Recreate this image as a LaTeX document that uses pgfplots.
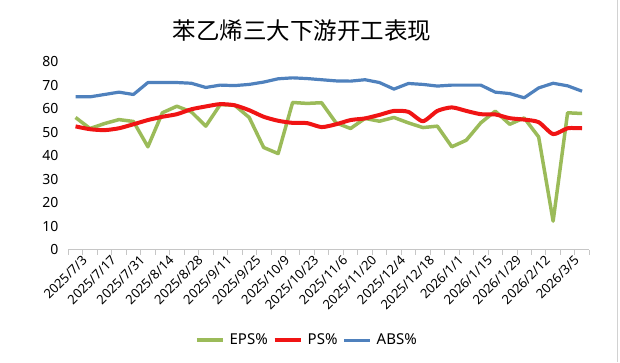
\documentclass[border=0pt]{standalone}
\usepackage{fontspec}
\setmainfont{Noto Sans}
\newfontfamily\cjk{Noto Sans CJK SC}
\usepackage{pgfplots}
\usepackage{pgfplotstable}
\pgfplotsset{compat=1.18}
\definecolor{epsgreen}{RGB}{155,187,89}
\definecolor{psred}{RGB}{240,20,20}
\definecolor{absblue}{RGB}{79,129,189}
\pgfplotstableread{
i eps ps abs
0 56.3 52.5 65.1
1 51.6 51.3 65.1
2 53.7 50.9 66.1
3 55.4 51.7 67.1
4 54.6 53.4 66.1
5 43.8 55.2 71.2
6 58.3 56.6 71.2
7 61.1 57.7 71.2
8 58.7 59.8 70.9
9 52.6 61.0 69.1
10 61.8 62.0 70.1
11 61.5 61.5 69.9
12 56.3 59.4 70.4
13 43.5 56.6 71.4
14 40.9 54.9 72.8
15 62.7 54.0 73.2
16 62.3 53.9 72.9
17 62.6 52.2 72.4
18 54.0 53.4 71.9
19 51.6 55.2 71.8
20 55.9 55.9 72.4
21 54.7 57.4 71.2
22 56.3 59.1 68.4
23 54.0 58.7 70.8
24 52.0 54.7 70.4
25 52.6 59.1 69.7
26 43.8 60.6 70.1
27 46.6 59.1 70.1
28 54.0 57.7 70.1
29 59.0 57.6 67.1
30 53.4 56.0 66.5
31 56.1 55.4 64.7
32 48.0 54.3 68.9
33 12.1 49.2 70.9
34 58.3 51.7 69.8
35 58.0 51.7 67.5
}\datatable
\begin{document}
\begin{tikzpicture}[x=1pt,y=1pt]
\path (0,0) rectangle (620,362);
\draw[gray!35] (617,0) -- (617,362);
\begin{axis}[
  at={(68.3pt,112.7pt)}, anchor=south west,
  scale only axis, width=521pt, height=187.6pt,
  xmin=-0.5, xmax=35.5, ymin=0, ymax=80,
  axis lines*=left,
  y axis line style={draw=none},
  x axis line style={draw=gray!45, line width=0.8pt},
  ytick={0,10,...,80},
  ytick style={draw=none},
  yticklabel style={font=\fontsize{14}{14}\selectfont, xshift=-2pt},
  /pgf/number format/assume math mode=true,
  xtick={0,2,...,34},
  xticklabels={2025/7/3,2025/7/17,2025/7/31,2025/8/14,2025/8/28,2025/9/11,2025/9/25,2025/10/9,2025/10/23,2025/11/6,2025/11/20,2025/12/4,2025/12/18,2026/1/1,2026/1/15,2026/1/29,2026/2/12,2026/3/5},
  major x tick style={draw=none},
  minor xtick={-0.5,0.5,...,35.5},
  minor x tick style={draw=gray!45, line width=0.8pt},
  minor tick length=5pt,
  tick align=outside,
  xticklabel style={font=\fontsize{13}{13}\selectfont, rotate=45, anchor=north east, inner sep=0.5pt, xshift=4pt, yshift=-4pt},
  legend columns=3,
  legend style={at={(0.458,-0.483)}, anchor=center, draw=none, font=\fontsize{15}{15}\selectfont, column sep=3pt},
  legend image code/.code={\draw[#1, line cap=butt] (0pt,0pt) -- (26pt,0pt);},
  clip=false,
]
\addplot[epsgreen, line width=3.5pt, line join=round] table[x=i, y=eps] {\datatable};
\addlegendentry{EPS\%}
\addplot[psred, line width=4pt, line join=round, smooth, tension=0.4] table[x=i, y=ps] {\datatable};
\addlegendentry{PS\%}
\addplot[absblue, line width=3.2pt, line join=round] table[x=i, y=abs] {\datatable};
\addlegendentry{ABS\%}
\end{axis}
\node[font=\cjk\fontsize{23.5}{23.5}\selectfont] at (302,332) {苯乙烯三大下游开工表现};
\end{tikzpicture}
\end{document}
